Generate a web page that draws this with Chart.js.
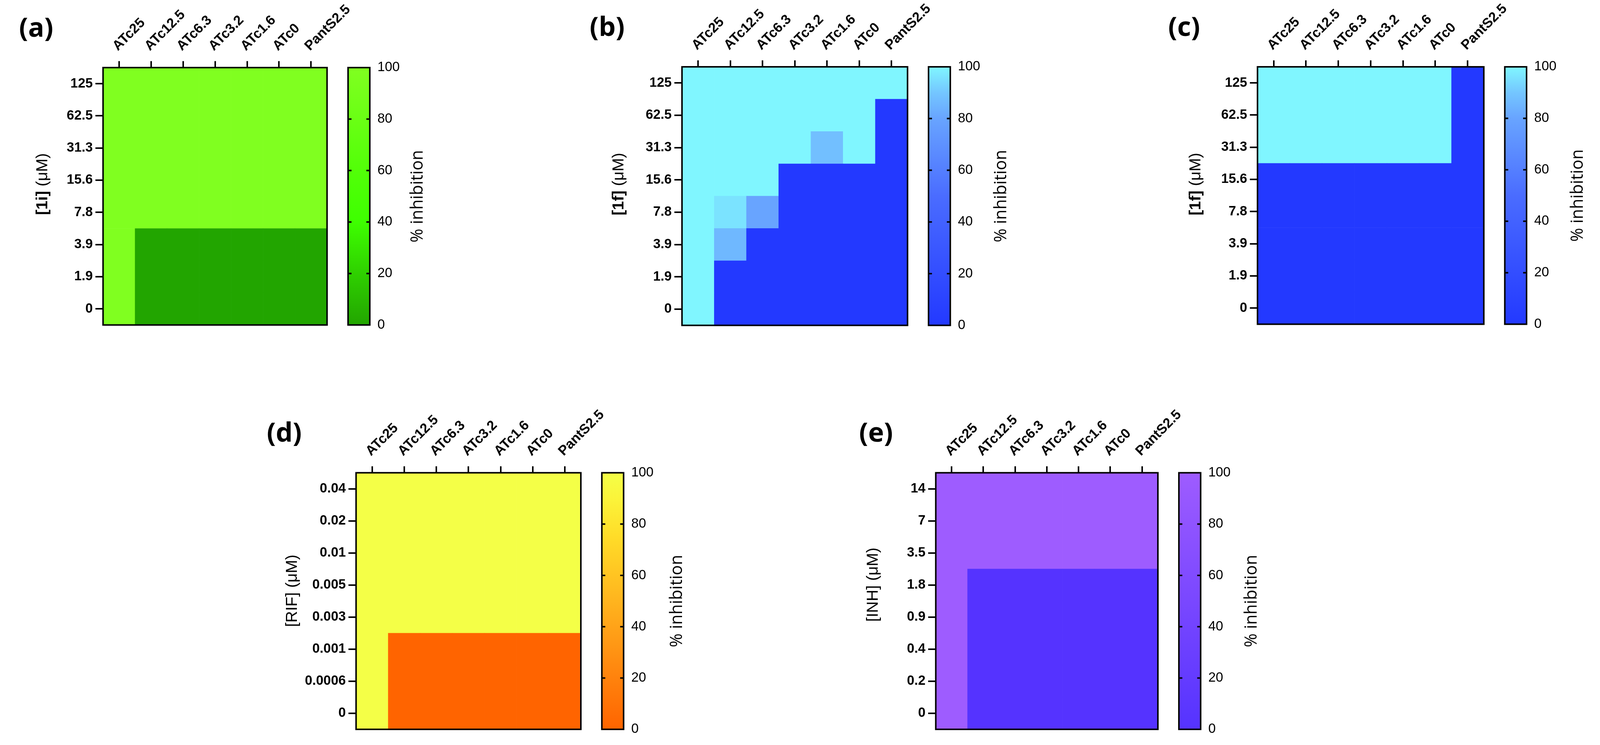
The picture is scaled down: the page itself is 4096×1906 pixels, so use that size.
<!DOCTYPE html>
<html>
<head>
<meta charset="utf-8">
<script src="https://cdn.jsdelivr.net/npm/chart.js@4.4.1/dist/chart.umd.min.js"></script>
<style>
  html, body { margin: 0; padding: 0; background: #fff; overflow: hidden; }
  #stage { position: relative; width: 4096px; height: 1906px; }
  canvas { position: absolute; }
</style>
</head>
<body>
<div id="stage"></div>
<script>
const S = 0.977; // reference px -> window px

// ---- data ----
const columns = ['ATc25', 'ATc12.5', 'ATc6.3', 'ATc3.2', 'ATc1.6', 'ATc0', 'PantS2.5'];
const rows1i = ['125', '62.5', '31.3', '15.6', '7.8', '3.9', '1.9', '0'];
const rows1f = ['125', '62.5', '31.3', '15.6', '7.8', '3.9', '1.9', '0'];
const rowsRIF = ['0.04', '0.02', '0.01', '0.005', '0.003', '0.001', '0.0006', '0'];
const rowsINH = ['14', '7', '3.5', '1.8', '0.9', '0.4', '0.2', '0'];
const barTicks = [0, 20, 40, 60, 80, 100];

// % inhibition, rows listed top to bottom, one value per column
const inhib1i = [
  [100, 100, 100, 100, 100, 100, 100],
  [100, 100, 100, 100, 100, 100, 100],
  [100, 100, 100, 100, 100, 100, 100],
  [100, 100, 100, 100, 100, 100, 100],
  [100, 100, 100, 100, 100, 100, 100],
  [100, 0, 0, 0, 0, 0, 0],
  [100, 0, 0, 0, 0, 0, 0],
  [100, 0, 0, 0, 0, 0, 0]
];
const inhib1f = [
  [100, 100, 100, 100, 100, 100, 100],
  [100, 100, 100, 100, 100, 100, 0],
  [100, 100, 100, 100, 88, 100, 0],
  [100, 100, 100, 0, 0, 0, 0],
  [100, 96, 80, 0, 0, 0, 0],
  [100, 86, 0, 0, 0, 0, 0],
  [100, 0, 0, 0, 0, 0, 0],
  [100, 0, 0, 0, 0, 0, 0]
];
const inhib1fPant = [
  [100, 100, 100, 100, 100, 100, 0],
  [100, 100, 100, 100, 100, 100, 0],
  [100, 100, 100, 100, 100, 100, 0],
  [0, 0, 0, 0, 0, 0, 0],
  [0, 0, 0, 0, 0, 0, 0],
  [0, 0, 0, 0, 0, 0, 0],
  [0, 0, 0, 0, 0, 0, 0],
  [0, 0, 0, 0, 0, 0, 0]
];
const inhibRIF = [
  [100, 100, 100, 100, 100, 100, 100],
  [100, 100, 100, 100, 100, 100, 100],
  [100, 100, 100, 100, 100, 100, 100],
  [100, 100, 100, 100, 100, 100, 100],
  [100, 100, 100, 100, 100, 100, 100],
  [100, 0, 0, 0, 0, 0, 0],
  [100, 0, 0, 0, 0, 0, 0],
  [100, 0, 0, 0, 0, 0, 0]
];
const inhibINH = [
  [100, 100, 100, 100, 100, 100, 100],
  [100, 100, 100, 100, 100, 100, 100],
  [100, 100, 100, 100, 100, 100, 100],
  [100, 0, 0, 0, 0, 0, 0],
  [100, 0, 0, 0, 0, 0, 0],
  [100, 0, 0, 0, 0, 0, 0],
  [100, 0, 0, 0, 0, 0, 0],
  [100, 0, 0, 0, 0, 0, 0]
];

// ---- colour scales (value -> colour stops) ----
const greenMap = [[0, '#22a500'], [20, '#2fd000'], [40, '#3eff00'], [60, '#52ff08'], [80, '#6aff14'], [100, '#80ff20']];
const blueMap = [[0, '#2339ff'], [50, '#4a6cff'], [80, '#68a4ff'], [90, '#74c6ff'], [100, '#80f6ff']];
const orangeMap = [[0, '#ff6400'], [25, '#ff8a10'], [50, '#ffb41e'], [75, '#ffdc28'], [90, '#fbf43a'], [100, '#f4ff47']];
const purpleMap = [[0, '#5533ff'], [100, '#9e5cff']];

const SANS = '"Liberation Sans", Arial, sans-serif';
const ROUND = '"Open Sans", sans-serif';

function hexRgb(h) {
  return [parseInt(h.slice(1, 3), 16), parseInt(h.slice(3, 5), 16), parseInt(h.slice(5, 7), 16)];
}
function colorAt(map, v) {
  for (let i = 1; i < map.length; i++) {
    if (v <= map[i][0]) {
      const a = hexRgb(map[i - 1][1]), b = hexRgb(map[i][1]);
      const t = (v - map[i - 1][0]) / (map[i][0] - map[i - 1][0]);
      return 'rgb(' + a.map((c, k) => Math.round(c + (b[k] - c) * t)).join(',') + ')';
    }
  }
  return map[map.length - 1][1];
}

// layout of each panel, in reference pixels
const panels = [
  { tag: '(a)', tagX: 50, L: 270, T: 177, W: 587, H: 674, rows: rows1i, values: inhib1i, cmap: greenMap,
    title: [['[1i]', true], [' (\u03bcM)', false]], titleX: 124, titleY: 482, pctX: 1107 },
  { tag: '(b)', tagX: 1545, L: 1787, T: 175, W: 591, H: 677, rows: rows1f, values: inhib1f, cmap: blueMap,
    title: [['[1f]', true], [' (\u03bcM)', false]], titleX: 1634, titleY: 482, pctX: 2637 },
  { tag: '(c)', tagX: 3061, L: 3295, T: 175, W: 593, H: 674, rows: rows1f, values: inhib1fPant, cmap: blueMap,
    title: [['[1f]', true], [' (\u03bcM)', false]], titleX: 3145, titleY: 482, pctX: 4147 },
  { tag: '(d)', tagX: 699, L: 933, T: 1238, W: 589, H: 678, rows: rowsRIF, values: inhibRIF, cmap: orangeMap,
    title: [['[RIF] (\u03bcM)', false]], titleX: 778, titleY: 1547, pctX: 1787 },
  { tag: '(e)', tagX: 2251, L: 2452, T: 1238, W: 582, H: 678, rows: rowsINH, values: inhibINH, cmap: purpleMap,
    title: [['[INH] (\u03bcM)', false]], titleX: 2300, titleY: 1531, pctX: 3293 }
];

function decor(p, left, top) {
  return {
    id: 'decor',
    afterDraw(chart) {
      const { ctx, chartArea: a, scales } = chart;
      ctx.save();
      ctx.fillStyle = '#000';
      ctx.strokeStyle = '#000';
      ctx.lineWidth = 4 * S;

      // frame of the heat map
      ctx.strokeRect(a.left, a.top, a.right - a.left, a.bottom - a.top);

      // column labels, rotated
      ctx.font = 'bold ' + (36 * S) + 'px ' + SANS;
      ctx.textAlign = 'left';
      ctx.textBaseline = 'alphabetic';
      columns.forEach((c, i) => {
        const x = scales.x.getPixelForTick(i);
        ctx.save();
        ctx.translate(x - 3 * S, a.top - 43 * S);
        ctx.rotate(-Math.PI / 4);
        ctx.fillText(c, 0, 0);
        ctx.restore();
      });

      // panel letter
      ctx.font = 'bold ' + (70 * S) + 'px ' + ROUND;
      ctx.fillText(p.tag, p.tagX * S - left, a.top - 81 * S);

      // y axis title (mixed weight)
      ctx.save();
      ctx.translate(p.titleX * S - left, p.titleY * S - top);
      ctx.rotate(-Math.PI / 2);
      const fonts = p.title.map(([, b]) => (b ? 'bold ' : '') + (42 * S) + 'px ' + SANS);
      let total = 0;
      p.title.forEach(([t], i) => { ctx.font = fonts[i]; total += ctx.measureText(t).width; });
      let x = -total / 2;
      p.title.forEach(([t], i) => { ctx.font = fonts[i]; ctx.fillText(t, x, 0); x += ctx.measureText(t).width; });
      ctx.restore();

      // colour bar, drawn along the cb scale
      const cb = scales.cb;
      const x0 = a.right + 55 * S, x1 = x0 + 57 * S;
      const y0 = cb.getPixelForValue(0), y1 = cb.getPixelForValue(100);
      const g = ctx.createLinearGradient(0, y0, 0, y1);
      p.cmap.forEach(([v, c]) => g.addColorStop(v / 100, c));
      ctx.fillStyle = g;
      ctx.fillRect(x0, y1, x1 - x0, y0 - y1);
      ctx.fillStyle = '#000';
      ctx.strokeRect(x0, y1, x1 - x0, y0 - y1);
      ctx.beginPath();
      cb.ticks.forEach(t => {
        if (t.value <= 0 || t.value >= 100) return;
        const y = cb.getPixelForValue(t.value);
        ctx.moveTo(x0, y); ctx.lineTo(x0 + 9 * S, y);
        ctx.moveTo(x1, y); ctx.lineTo(x1 - 9 * S, y);
      });
      ctx.stroke();

      // colour bar title
      ctx.save();
      ctx.font = (44 * S) + 'px ' + ROUND;
      ctx.textAlign = 'center';
      ctx.translate(p.pctX * S - left, (a.top + a.bottom) / 2);
      ctx.rotate(-Math.PI / 2);
      ctx.fillText('% inhibition', 0, 0);
      ctx.restore();

      ctx.restore();
    }
  };
}

function makePanel(p) {
  const padL = 270, padT = 180, padR = 300, padB = 80;
  const left = Math.floor((p.L - padL) * S);
  const top = Math.floor((p.T - padT) * S);
  const width = Math.round((p.L + p.W + padR) * S) - left;
  const height = Math.min(1906, Math.round((p.T + p.H + padB) * S)) - top;
  const cv = document.createElement('canvas');
  cv.width = width; cv.height = height;
  cv.style.left = left + 'px'; cv.style.top = top + 'px';
  document.getElementById('stage').appendChild(cv);

  const leftW = p.L * S - left;
  const topH = p.T * S - top;
  const rightW = width - (p.L + p.W) * S + left;
  const bottomPad = height - ((p.T + p.H) * S - top);
  const n = p.rows.length;

  new Chart(cv, {
    type: 'bar',
    data: {
      labels: columns,
      // one stacked dataset per row, bottom row first
      datasets: p.values.slice().reverse().map((row, r) => ({
        label: p.rows[n - 1 - r],
        data: row.map(() => 1),
        backgroundColor: row.map(v => colorAt(p.cmap, v)),
        borderWidth: 0,
        barPercentage: 1,
        categoryPercentage: 1
      }))
    },
    options: {
      responsive: false,
      animation: false,
      devicePixelRatio: 1,
      events: [],
      layout: { padding: { left: 0, top: 0, right: 0, bottom: bottomPad } },
      plugins: { legend: { display: false }, tooltip: { enabled: false } },
      scales: {
        x: {
          position: 'top',
          stacked: true,
          offset: true,
          ticks: { display: false },
          grid: { drawOnChartArea: false, offset: false, tickLength: 17 * S, tickWidth: 4 * S, tickColor: '#000', lineWidth: 4 * S, color: '#000' },
          border: { display: false },
          afterFit: sc => { sc.height = topH; }
        },
        y: {
          position: 'left',
          stacked: true,
          min: 0,
          max: n,
          afterBuildTicks: sc => { sc.ticks = p.rows.map((_, i) => ({ value: i + 0.5 })); },
          ticks: {
            autoSkip: false,
            color: '#000',
            padding: 7 * S,
            font: { family: SANS, weight: 'bold', size: 35 * S },
            callback: (v, i) => p.rows[n - 1 - i]
          },
          grid: { drawOnChartArea: false, tickLength: 20 * S, tickWidth: 4 * S, tickColor: '#000', lineWidth: 4 * S, color: '#000' },
          border: { display: false },
          afterFit: sc => { sc.width = leftW; }
        },
        cb: {
          type: 'linear',
          position: 'right',
          min: 0,
          max: 100,
          afterBuildTicks: sc => { sc.ticks = barTicks.map(v => ({ value: v })); },
          ticks: { color: '#000', padding: 20 * S, font: { family: SANS, size: 35 * S } },
          // the bar itself sits in the tick-mark space, so the marks are left unpainted
          grid: { drawOnChartArea: false, drawTicks: true, tickLength: (55 + 57) * S, tickWidth: 0, lineWidth: 0, tickColor: 'rgba(0,0,0,0)' },
          border: { display: false },
          afterFit: sc => { sc.width = rightW; }
        }
      }
    },
    plugins: [decor(p, left, top)]
  });
}

panels.forEach(makePanel);
</script>
</body>
</html>
